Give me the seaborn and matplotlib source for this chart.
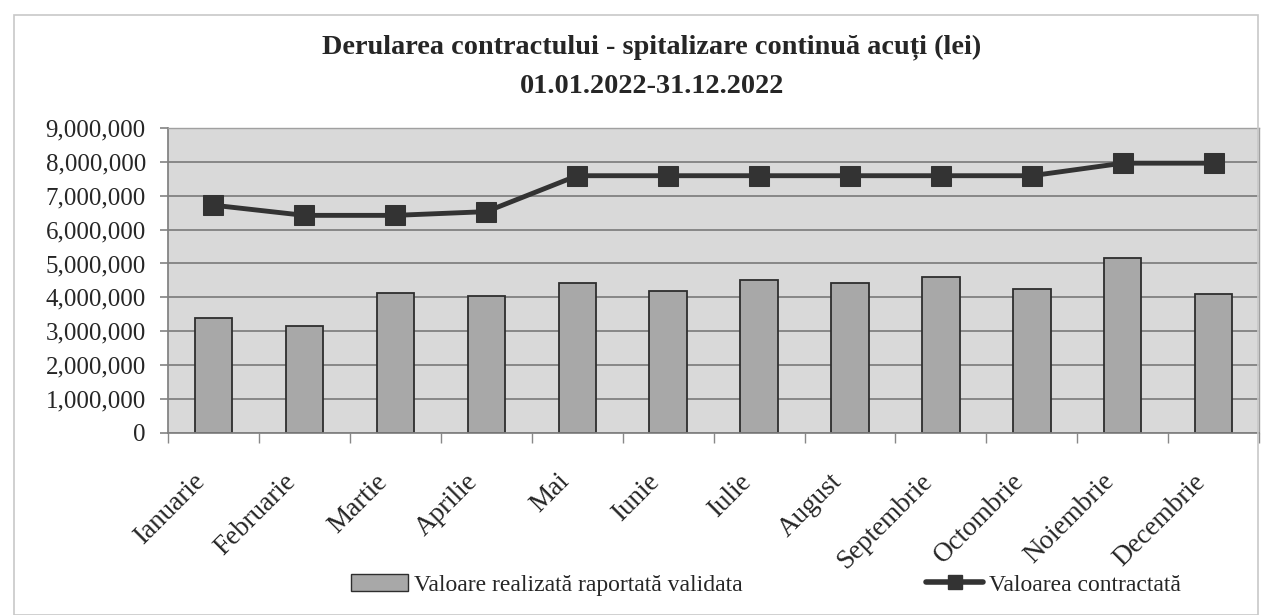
import matplotlib
matplotlib.use('Agg')
import matplotlib.pyplot as plt
import matplotlib.ticker as mticker
import matplotlib.transforms as mtransforms
from matplotlib.lines import Line2D
from matplotlib.patches import Patch, Rectangle
import seaborn as sns
import numpy as np
import pandas as pd

luni = ['Ianuarie', 'Februarie', 'Martie', 'Aprilie', 'Mai', 'Iunie',
        'Iulie', 'August', 'Septembrie', 'Octombrie', 'Noiembrie', 'Decembrie']
valoare_realizata = [3390000, 3150000, 4140000, 4030000, 4420000, 4200000,
                     4520000, 4420000, 4590000, 4260000, 5160000, 4110000]
valoare_contractata = [6720000, 6420000, 6420000, 6530000, 7590000, 7590000,
                       7590000, 7590000, 7590000, 7590000, 7960000, 7960000]
y_ticks = list(range(0, 9000001, 1000000))

sns.set_theme(style='white')
plt.rcParams['font.family'] = ['Liberation Serif', 'DejaVu Serif']

df = pd.DataFrame({'luna': luni, 'realizat': valoare_realizata,
                   'contractat': valoare_contractata, 'pos': np.arange(len(luni))})

fig = plt.figure(figsize=(12.63, 6.15), dpi=100)
ax = fig.add_axes([0.133, 0.296, 0.864, 0.496])
ax.set_facecolor('#d9d9d9')
ax.set_axisbelow(True)

# bare: valoare realizata
sns.barplot(data=df, x='luna', y='realizat', color='#a8a8a8', saturation=1,
            edgecolor='#2e2e2e', linewidth=1.3, width=0.41, ax=ax, zorder=2)
# linie: valoare contractata
sns.lineplot(data=df, x='pos', y='contractat', color='#333333', linewidth=3.5,
             marker='s', markersize=15, markeredgecolor='#333333', ax=ax, zorder=3)

ax.set_xlim(-0.5, len(luni) - 0.5)
ax.set_ylim(0, 9000000)
ax.set_yticks(y_ticks)
ax.yaxis.set_major_formatter(mticker.FuncFormatter(lambda v, _: f'{v:,.0f}'))
ax.grid(axis='y', color='#7a7a7a', linewidth=1.2)
ax.set_xlabel('')
ax.set_ylabel('')

ax.set_xticks(range(len(luni)))
ax.set_xticklabels(luni, rotation=45, ha='right', va='center',
                   rotation_mode='anchor', fontsize=19.5)
ax.tick_params(axis='x', which='major', length=0, pad=0)
offset = mtransforms.ScaledTranslation(-12 / 100, -45 / 100, fig.dpi_scale_trans)
for lbl in ax.get_xticklabels():
    lbl.set_transform(lbl.get_transform() + offset)
ax.set_xticks(np.arange(-0.5, len(luni), 1), minor=True)
ax.tick_params(axis='x', which='minor', length=7, color='#888888', direction='out', bottom=True)
ax.tick_params(axis='y', length=6, color='#888888', direction='out', left=True, labelsize=18, pad=10)

for side in ['top', 'right']:
    ax.spines[side].set_color('#a0a0a0')
    ax.spines[side].set_linewidth(1)
ax.spines['left'].set_color('#808080')
ax.spines['bottom'].set_color('#808080')

fig.text(0.516, 0.923, 'Derularea contractului - spitalizare continuă acuți (lei)',
         ha='center', va='center', fontsize=20.3, fontweight='bold')
fig.text(0.516, 0.860, '01.01.2022-31.12.2022',
         ha='center', va='center', fontsize=20.3, fontweight='bold')

handles = [Patch(facecolor='#a8a8a8', edgecolor='#2e2e2e'),
           Line2D([], [], color='#333333', linewidth=4, marker='s', markersize=10)]
fig.legend(handles, ['Valoare realizată raportată validata', 'Valoarea contractată'],
           loc='center', bbox_to_anchor=(0.6065, 0.049), ncol=2, frameon=False,
           fontsize=17, columnspacing=7.8, handlelength=2.4, handletextpad=0.25)

fig.patches.append(Rectangle((0.011, 0.0), 0.985, 0.975, transform=fig.transFigure,
                             fill=False, edgecolor='#c8c8c8', linewidth=1.2))

fig.savefig('out.png', dpi=100, facecolor='white')
